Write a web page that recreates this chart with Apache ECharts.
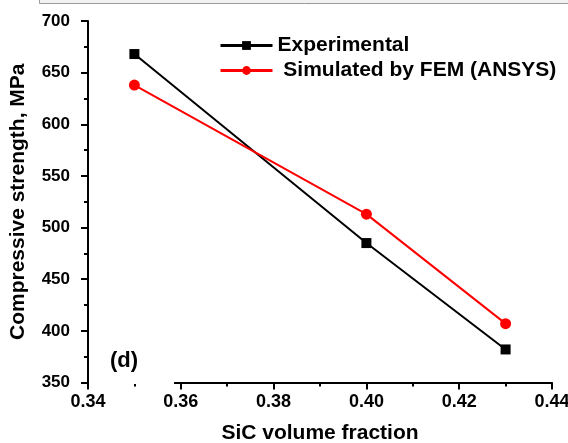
<!DOCTYPE html>
<html><head><meta charset="utf-8">
<script src="https://cdn.jsdelivr.net/npm/echarts@6/dist/echarts.min.js"></script>
<style>html,body{margin:0;padding:0;background:#fff}#c{width:568px;height:443px}</style>
</head><body><div id="c"></div>
<script>
const xValues = [0.35, 0.40, 0.43];
const experimental = [668, 485, 382];
const simulated = [638, 513, 407];
const seriesNames = ['Experimental', 'Simulated by FEM (ANSYS)'];
const yTicks = [350, 400, 450, 500, 550, 600, 650, 700];
const xTicks = [0.34, 0.36, 0.38, 0.40, 0.42, 0.44];

const FONT = '"Liberation Sans", Arial, sans-serif';
const chart = echarts.init(document.getElementById('c'), null, {renderer: 'canvas'});
chart.setOption({
  animation: false,
  backgroundColor: '#fff',
  grid: {left: 88, right: 16, top: 21, bottom: 60.5, containLabel: false, outerBoundsMode: 'none'},
  legend: {
    orient: 'vertical', left: 214, top: 30, itemWidth: 52, itemHeight: 11, itemGap: 4,
    formatter: n => n === seriesNames[1] ? ' ' + n : n,
    lineStyle: {width: 3},
    textStyle: {fontFamily: FONT, fontWeight: 'bold', fontSize: 21, color: '#000'},
    data: seriesNames
  },
  xAxis: {
    type: 'value', min: xTicks[0], max: xTicks[xTicks.length - 1], interval: 0.02,
    name: 'SiC volume fraction', nameLocation: 'middle', nameGap: 40,
    nameTextStyle: {fontFamily: FONT, fontWeight: 'bold', fontSize: 21, color: '#000'},
    axisLine: {onZero: false, lineStyle: {color: '#000', width: 2}},
    axisTick: {length: 7, lineStyle: {color: '#000', width: 2}},
    minorTick: {show: true, splitNumber: 2, length: 4, lineStyle: {color: '#000', width: 2}},
    splitLine: {show: false},
    axisLabel: {margin: 11, fontFamily: FONT, fontWeight: 'bold', fontSize: 18, color: '#000',
      formatter: v => v.toFixed(2)}
  },
  yAxis: {
    type: 'value', min: yTicks[0], max: yTicks[yTicks.length - 1], interval: 50,
    name: 'Compressive strength, MPa', nameLocation: 'middle', nameGap: 59,
    nameTextStyle: {fontFamily: FONT, fontWeight: 'bold', fontSize: 21, color: '#000'},
    axisLine: {show: true, onZero: false, lineStyle: {color: '#000', width: 2}},
    axisTick: {show: true, length: 7, lineStyle: {color: '#000', width: 2}},
    minorTick: {show: true, splitNumber: 2, length: 4, lineStyle: {color: '#000', width: 2}},
    splitLine: {show: false},
    axisLabel: {margin: 18, fontFamily: FONT, fontWeight: 'bold', fontSize: 17, color: '#000'}
  },
  series: [
    {name: seriesNames[0], type: 'line', data: xValues.map((x, i) => [x, experimental[i]]),
      symbol: 'rect', symbolSize: 10, color: '#000',
      lineStyle: {color: '#000', width: 2}, itemStyle: {color: '#000'}},
    {name: seriesNames[1], type: 'line', data: xValues.map((x, i) => [x, simulated[i]]),
      symbol: 'circle', symbolSize: 11, color: '#ff0000',
      lineStyle: {color: '#ff0000', width: 2}, itemStyle: {color: '#ff0000'}}
  ],
  graphic: [
    {type: 'rect', left: 39, top: -2, shape: {width: 540, height: 5}, z: 100,
      style: {fill: '#f2f2f2', stroke: '#9a9a9a', lineWidth: 1}},
    {type: 'rect', left: 89, top: 376, shape: {width: 85, height: 8}, z: 100,
      style: {fill: '#fff'}},
    {type: 'text', left: 110, top: 350, z: 101,
      style: {text: '(d)', fontFamily: FONT, fontWeight: 'bold', fontSize: 22, fill: '#000'}}
  ]
});
</script></body></html>
